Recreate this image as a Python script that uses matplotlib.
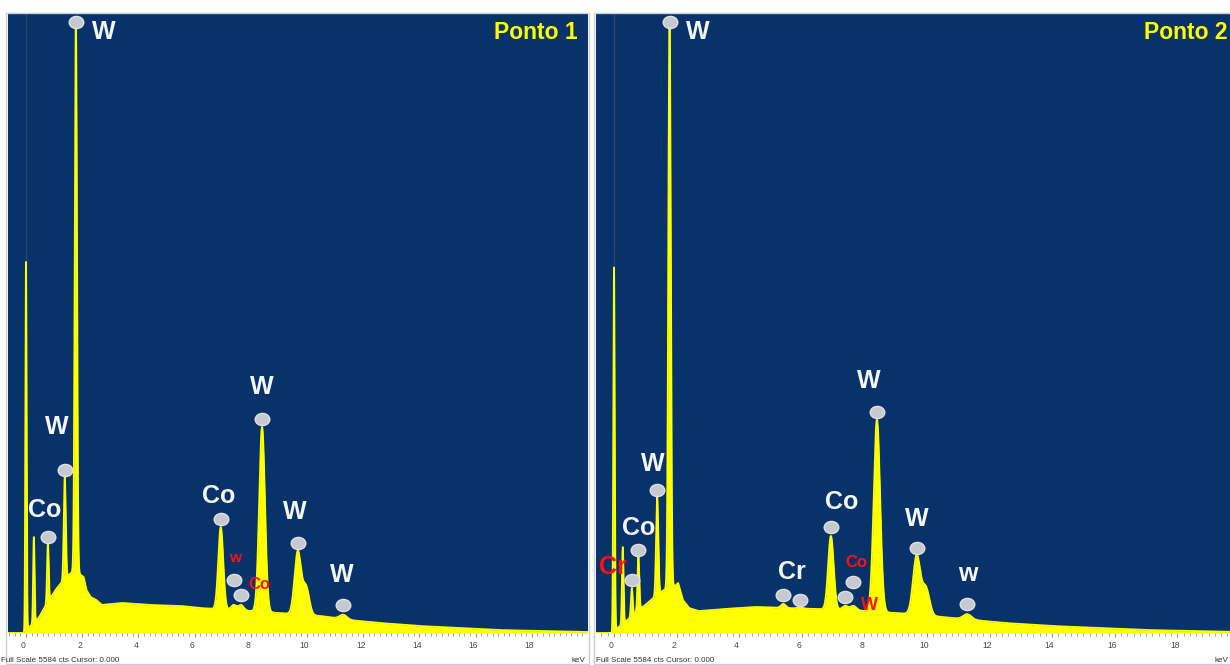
import numpy as np
import matplotlib
matplotlib.use("Agg")
import matplotlib.pyplot as plt
from matplotlib.path import Path
from matplotlib.transforms import offset_copy, ScaledTranslation
from matplotlib.ticker import MultipleLocator
from matplotlib.patches import Rectangle

# ---------------------------------------------------------------- data
FULL_SCALE = 5584  # cts

tick_values = [0, 2, 4, 6, 8, 10, 12, 14, 16, 18]
panel_titles = ["Ponto 1", "Ponto 2"]
footer_text = "Full Scale 5584 cts Cursor: 0.000"

# background (bremsstrahlung) level, keV -> cts
cont_keV_1 = [0.0, 0.2, 0.45, 0.65, 0.9, 1.05, 1.25, 1.6, 1.75, 1.95, 2.05,
              2.15, 2.3, 2.5, 2.7, 3.4, 4.4, 5.5, 6.2, 7.3, 8.0, 9.0, 10.5,
              11.5, 12.6, 14.0, 15.4, 16.8, 18.3, 20.0]
cont_cts_1 = [27, 72, 135, 225, 325, 388, 451, 541, 568, 523, 505,
              388, 325, 298, 253, 271, 253, 244, 225, 207, 198, 180, 153,
              117, 90, 63, 45, 27, 18, 9]

cont_keV_2 = [0.0, 0.2, 0.5, 0.8, 1.0, 1.3, 1.6, 1.75, 1.95, 2.05, 2.2, 2.4,
              2.7, 3.5, 4.5, 5.5, 6.5, 7.5, 8.5, 9.5, 10.5, 11.5, 12.5, 14.0,
              15.5, 17.0, 18.5, 20.0]
cont_cts_2 = [27, 63, 135, 207, 253, 325, 388, 406, 424, 451, 298, 225,
              198, 216, 235, 225, 216, 207, 189, 171, 144, 117, 90, 63,
              45, 27, 18, 9]

# characteristic lines: name, energy (keV), peak top (cts)
peak_names_1 = ["zero", "C Ka", "Co La", "W Mz", "W Ma", "Co Ka", "W Ll",
                "Co Kb", "W La", "W Lb", "W Lb2", "W Lg"]
peak_keV_1 = [0.0, 0.28, 0.78, 1.38, 1.775, 6.93, 7.39,
              7.65, 8.40, 9.67, 9.96, 11.29]
peak_cts_1 = [3320, 866, 812, 1407, 5560, 956, 253,
              253, 1858, 731, 415, 165]

peak_names_2 = ["zero", "C Ka", "Cr La", "Co La", "W Mz", "W Ma", "Cr Ka",
                "Cr Kb", "Co Ka", "W Ll", "Co Kb", "W La", "W Lb", "W Lb2",
                "W Lg"]
peak_keV_2 = [0.0, 0.28, 0.57, 0.78, 1.38, 1.775, 5.41,
              5.95, 6.93, 7.39, 7.65, 8.40, 9.67, 9.96,
              11.29]
peak_cts_2 = [3274, 776, 406, 686, 1227, 5560, 262,
              235, 875, 244, 244, 1925, 695, 406,
              170]

# element tags shown over identified lines
tags_1 = {"Co La": "Co", "W Mz": "W", "W Ma": "W", "Co Ka": "Co",
          "W Ll": "w", "Co Kb": "Co", "W La": "W", "W Lb": "W", "W Lg": "W"}
tags_2 = {"Cr La": "Cr", "Co La": "Co", "W Mz": "W", "W Ma": "W",
          "Cr Ka": "Cr", "Cr Kb": "", "Co Ka": "Co", "W Ll": "W",
          "Co Kb": "Co", "W La": "W", "W Lb": "W", "W Lg": "w"}

# ---------------------------------------------------------------- style
NAVY = "#08336a"
YELLOW = "#ffff00"
RED = "#ff1010"
WHITE = "#f4f6fa"

# marker lift / tag offset (pixels), colour, size for each tagged line
tag_style_1 = {
    "Co La": (6, -3, 26, WHITE, 18),
    "W Mz": (7, -8, 43, WHITE, 18),
    "W Ma": (-5, 28, -22, WHITE, 18),
    "Co Ka": (8, -2, 24, WHITE, 18),
    "W Ll": (25, 1, 43, RED, 11),
    "Co Kb": (10, 18, 16, RED, 12),
    "W La": (8, 0, 33, WHITE, 18),
    "W Lb": (9, -3, 33, WHITE, 18),
    "W Lg": (10, -1, 33, WHITE, 18),
}
tag_style_2 = {
    "Cr La": (8, -19, 14, RED, 18),
    "Co La": (7, 0, 22, WHITE, 18),
    "W Mz": (7, -4, 26, WHITE, 18),
    "W Ma": (-5, 28, -22, WHITE, 18),
    "Cr Ka": (9, 9, 25, WHITE, 18),
    "Cr Kb": (7, 0, 0, WHITE, 18),
    "Co Ka": (9, 11, 27, WHITE, 18),
    "W Ll": (9, 24, -4, RED, 13),
    "Co Kb": (24, 3, 39, RED, 12),
    "W La": (8, -8, 32, WHITE, 18),
    "W Lb": (8, 0, 30, WHITE, 18),
    "W Lg": (10, 0, 33, WHITE, 18),
}

W_PX, H_PX = 1230, 665
DPI = 100
FONT = "Liberation Sans"

# slightly flattened disc used as the line marker
_circ = Path.unit_circle()
ELLIPSE = Path(_circ.vertices * np.array([1.2, 1.0]), _circ.codes)


def build_spectrum(grid, c_e, c_c, p_e, p_c):
    base = np.interp(grid, c_e, c_c)
    base[grid < 0] = 0.0
    total = base.copy()
    for e, top in zip(p_e, p_c):
        sig = 0.022 + 0.0095 * e   # detector resolution broadens with energy
        amp = top - (np.interp(e, c_e, c_c) if e > 0 else 0.0)
        total += amp * np.exp(-0.5 * ((grid - e) / sig) ** 2)
    return total


fig = plt.figure(figsize=(W_PX / DPI, H_PX / DPI), dpi=DPI, facecolor="white")


def px_box(x0, x1, y_top, y_bot):
    return [x0 / W_PX, 1 - y_bot / H_PX, (x1 - x0) / W_PX, (y_bot - y_top) / H_PX]


panels = [
    dict(box=(8, 587.5), xlim=(-0.64, 19.98), frame=(6, 589),
         c_e=cont_keV_1, c_c=cont_cts_1, names=peak_names_1,
         p_e=peak_keV_1, p_c=peak_cts_1, tags=tags_1, style=tag_style_1,
         title=panel_titles[0], title_dx=-9.5, foot_x=1, kev_x=585),
    dict(box=(596, 1240), xlim=(-0.575, 20.0), frame=(594, 1242),
         c_e=cont_keV_2, c_c=cont_cts_2, names=peak_names_2,
         p_e=peak_keV_2, p_c=peak_cts_2, tags=tags_2, style=tag_style_2,
         title=panel_titles[1], title_dx=-13, foot_x=596, kev_x=1228),
]

for p in panels:
    x0, x1 = p["box"]
    # light panel frame
    fig.patches.append(Rectangle((p["frame"][0] / W_PX, 1 / H_PX),
                                 (p["frame"][1] - p["frame"][0]) / W_PX,
                                 (664 - 13) / H_PX, transform=fig.transFigure,
                                 fill=False, edgecolor="#c5cedb", lw=1.0))
    ax = fig.add_axes(px_box(x0, x1, 14, 633))
    ax.set_facecolor(NAVY)
    ax.set_xlim(*p["xlim"])
    ax.set_ylim(0, FULL_SCALE)
    for s in ax.spines.values():
        s.set_visible(False)

    grid = np.arange(p["xlim"][0], 20.0, 0.004)
    spec = build_spectrum(grid, p["c_e"], p["c_c"], p["p_e"], p["p_c"])

    ax.axvline(0.0, color="#2c4466", lw=1.0, zorder=1)
    ax.fill_between(grid, 0, spec, color=YELLOW, lw=0, zorder=2)
    ax.plot(grid, spec, color=YELLOW, lw=1.3, zorder=2,
            solid_joinstyle="round")

    # line markers and element tags
    for name, text in p["tags"].items():
        i = p["names"].index(name)
        e, top = p["p_e"][i], p["p_c"][i]
        lift, dx, dy, col, size = p["style"][name]
        tr = offset_copy(ax.transData, fig=fig, x=0, y=lift, units="dots")
        ax.plot([e], [top], marker=ELLIPSE, ms=10.5, mfc="#c6c9cf",
                mec="#dfe1e6", mew=1.0, transform=tr, zorder=4,
                clip_on=False)
        if text:
            ax.annotate(text, xy=(e, top), xytext=(dx, dy),
                        textcoords="offset pixels", ha="center",
                        va="baseline", color=col, fontsize=size,
                        fontweight="bold", family=FONT, zorder=5,
                        annotation_clip=False)

    ax.annotate(p["title"], xy=(1, 1), xycoords="axes fraction",
                xytext=(p["title_dx"], -25), textcoords="offset pixels",
                ha="right", va="baseline", color=YELLOW, fontsize=16.5,
                fontweight="bold", family=FONT)

    ax.set_yticks([])
    ax.set_xticks(tick_values)
    ax.xaxis.set_minor_locator(MultipleLocator(0.2))
    ax.tick_params(axis="x", which="major", direction="out", length=3,
                   width=0.8, color="#8a96a8", pad=2.5, labelsize=6.2,
                   labelcolor="#4a4a4a")
    ax.tick_params(axis="x", which="minor", direction="out", length=2,
                   width=0.7, color="#9aa5b5")
    shift = ScaledTranslation(-2.5 / DPI, 0, fig.dpi_scale_trans)
    for lab in ax.get_xticklabels():
        lab.set_family(FONT)
        lab.set_transform(lab.get_transform() + shift)

    fig.text(p["foot_x"] / W_PX, 1 - 662 / H_PX, footer_text, ha="left",
             va="baseline", fontsize=5.8, color="#333333", family=FONT)
    fig.text(p["kev_x"] / W_PX, 1 - 662 / H_PX, "keV", ha="right",
             va="baseline", fontsize=5.8, color="#333333", family=FONT)

fig.savefig("out.png", dpi=DPI, facecolor="white")
